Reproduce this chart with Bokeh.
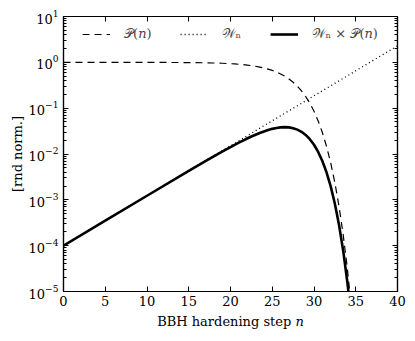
from bokeh.plotting import figure
from bokeh.models import (Range1d, LinearAxis, LogAxis, FixedTicker, Legend,
                          LegendItem, LogTickFormatter, ColumnDataSource,
                          CustomJSTickFormatter)
from bokeh.embed import file_html
from bokeh.resources import INLINE

# ---- data ----
n_w = list(range(0, 41))
w_n = [1.000e-4, 1.285e-4, 1.652e-4, 2.123e-4, 2.729e-4, 3.508e-4, 4.508e-4,
       5.794e-4, 7.447e-4, 9.572e-4, 1.230e-3, 1.581e-3, 2.032e-3, 2.612e-3,
       3.357e-3, 4.315e-3, 5.546e-3, 7.129e-3, 9.162e-3, 1.178e-2, 1.514e-2,
       1.945e-2, 2.500e-2, 3.214e-2, 4.130e-2, 5.309e-2, 6.823e-2, 8.770e-2,
       0.1127, 0.1449, 0.1862, 0.2393, 0.3076, 0.3954, 0.5082, 0.6531, 0.8395,
       1.079, 1.387, 1.782, 2.291]

n_p = [0, 5, 10, 15, 17, 18, 19, 20, 20.5, 21, 21.5, 22, 22.5, 23, 23.5, 24,
       24.5, 25, 25.5, 26, 26.5, 27, 27.5, 28, 28.5, 29, 29.5, 30, 30.5, 31,
       31.5, 32, 32.5, 33, 33.5, 34, 34.5, 35]
p_n = [1.0, 1.0, 0.998, 0.989, 0.977, 0.968, 0.954, 0.935, 0.923, 0.908,
       0.891, 0.871, 0.848, 0.820, 0.789, 0.753, 0.712, 0.666, 0.615, 0.558,
       0.498, 0.434, 0.368, 0.302, 0.2385, 0.1798, 0.1282, 0.0855, 0.0526,
       0.02944, 0.01468, 0.00639, 0.002358, 7.15e-4, 1.713e-4, 3.10e-5,
       4.0e-6, 3.45e-7]
wp_n = [1.0e-4, 3.508e-4, 1.228e-3, 4.267e-3, 6.965e-3, 8.869e-3, 1.124e-2,
        1.416e-2, 1.584e-2, 1.766e-2, 1.965e-2, 2.178e-2, 2.403e-2, 2.635e-2,
        2.874e-2, 3.110e-2, 3.334e-2, 3.536e-2, 3.701e-2, 3.807e-2, 3.852e-2,
        3.806e-2, 3.659e-2, 3.404e-2, 3.048e-2, 2.605e-2, 2.106e-2, 1.592e-2,
        1.110e-2, 7.045e-3, 3.983e-3, 1.966e-3, 8.22e-4, 2.827e-4, 7.68e-5,
        1.575e-5, 2.30e-6, 2.25e-7]

x_ticks = [0, 5, 10, 15, 20, 25, 30, 35, 40]
y_ticks = [1e-5, 1e-4, 1e-3, 1e-2, 1e-1, 1e0, 1e1]
y_minor = [k * 10.0 ** e for e in range(-5, 1) for k in range(2, 10)]

labels = ["\U0001D4AB(\U0001D45B)", "\U0001D4B2\u2099",
          "\U0001D4B2\u2099 \u00d7 \U0001D4AB(\U0001D45B)"]
x_label = "BBH hardening step \U0001D45B"
y_label = "[rnd norm.]"

FONT = "DejaVu Serif"

p = figure(width=410, height=335, output_backend="svg", toolbar_location=None,
           x_range=Range1d(0, 40), y_range=Range1d(1e-5, 1e1),
           y_axis_type="log", min_border_left=63, min_border_right=13,
           min_border_top=16, min_border_bottom=44)
p.grid.visible = False
p.outline_line_color = "black"
p.outline_line_width = 1.2
p.background_fill_color = "white"
p.border_fill_color = "white"

src_w = ColumnDataSource(dict(n=n_w, w=w_n))
src_p = ColumnDataSource(dict(n=n_p, p=p_n, wp=wp_n))

r_p = p.line("n", "p", source=src_p, line_color="black", line_width=1.2,
             line_dash="7 5")
r_w = p.line("n", "w", source=src_w, line_color="black", line_width=1.3,
             line_dash="1 3")
r_wp = p.line("n", "wp", source=src_p, line_color="black", line_width=2.6)


def style_axis(ax):
    ax.axis_line_color = "black"
    ax.axis_line_width = 1.2
    ax.major_tick_in = 5
    ax.major_tick_out = 0
    ax.minor_tick_in = 3
    ax.minor_tick_out = 0
    ax.major_tick_line_color = "black"
    ax.minor_tick_line_color = "black"
    ax.major_label_text_font = FONT
    ax.major_label_text_font_size = "13px"
    ax.major_label_text_color = "black"
    ax.axis_label_text_font = FONT
    ax.axis_label_text_font_size = "13px"
    ax.axis_label_text_font_style = "normal"
    ax.axis_label_text_color = "black"


xa = p.xaxis[0]
xa.ticker = FixedTicker(ticks=x_ticks)
xa.axis_label = x_label
style_axis(xa)
xa.major_label_standoff = 4
xa.axis_label_standoff = 5

ya = p.yaxis[0]
ya.ticker = FixedTicker(ticks=y_ticks, minor_ticks=y_minor)
ya.formatter = LogTickFormatter()
ya.axis_label = y_label
style_axis(ya)
ya.major_label_standoff = 5
ya.axis_label_standoff = 1

# mirrored ticks on top (no labels: ticks drawn as "minor" ticks of full length)
xt = LinearAxis(ticker=FixedTicker(ticks=[], minor_ticks=x_ticks))
style_axis(xt)
xt.minor_tick_in = 5
p.add_layout(xt, "above")

# mirrored ticks on the right, labels blanked
yr = LogAxis(ticker=FixedTicker(ticks=y_ticks, minor_ticks=y_minor),
             formatter=CustomJSTickFormatter(code="return ''"))
style_axis(yr)
yr.major_label_standoff = 0
p.add_layout(yr, "right")

legend = Legend(items=[LegendItem(label=labels[0], renderers=[r_p]),
                       LegendItem(label=labels[1], renderers=[r_w]),
                       LegendItem(label=labels[2], renderers=[r_wp])],
                location="top_center", orientation="horizontal")
legend.label_text_font = FONT
legend.label_text_font_size = "13px"
legend.glyph_width = 28
legend.glyph_height = 20
legend.label_standoff = 14
legend.spacing = 28
legend.margin = 4
legend.padding = 4
legend.background_fill_alpha = 0
legend.border_line_alpha = 0
p.add_layout(legend)

open("out.html", "w").write(file_html(p, INLINE))
